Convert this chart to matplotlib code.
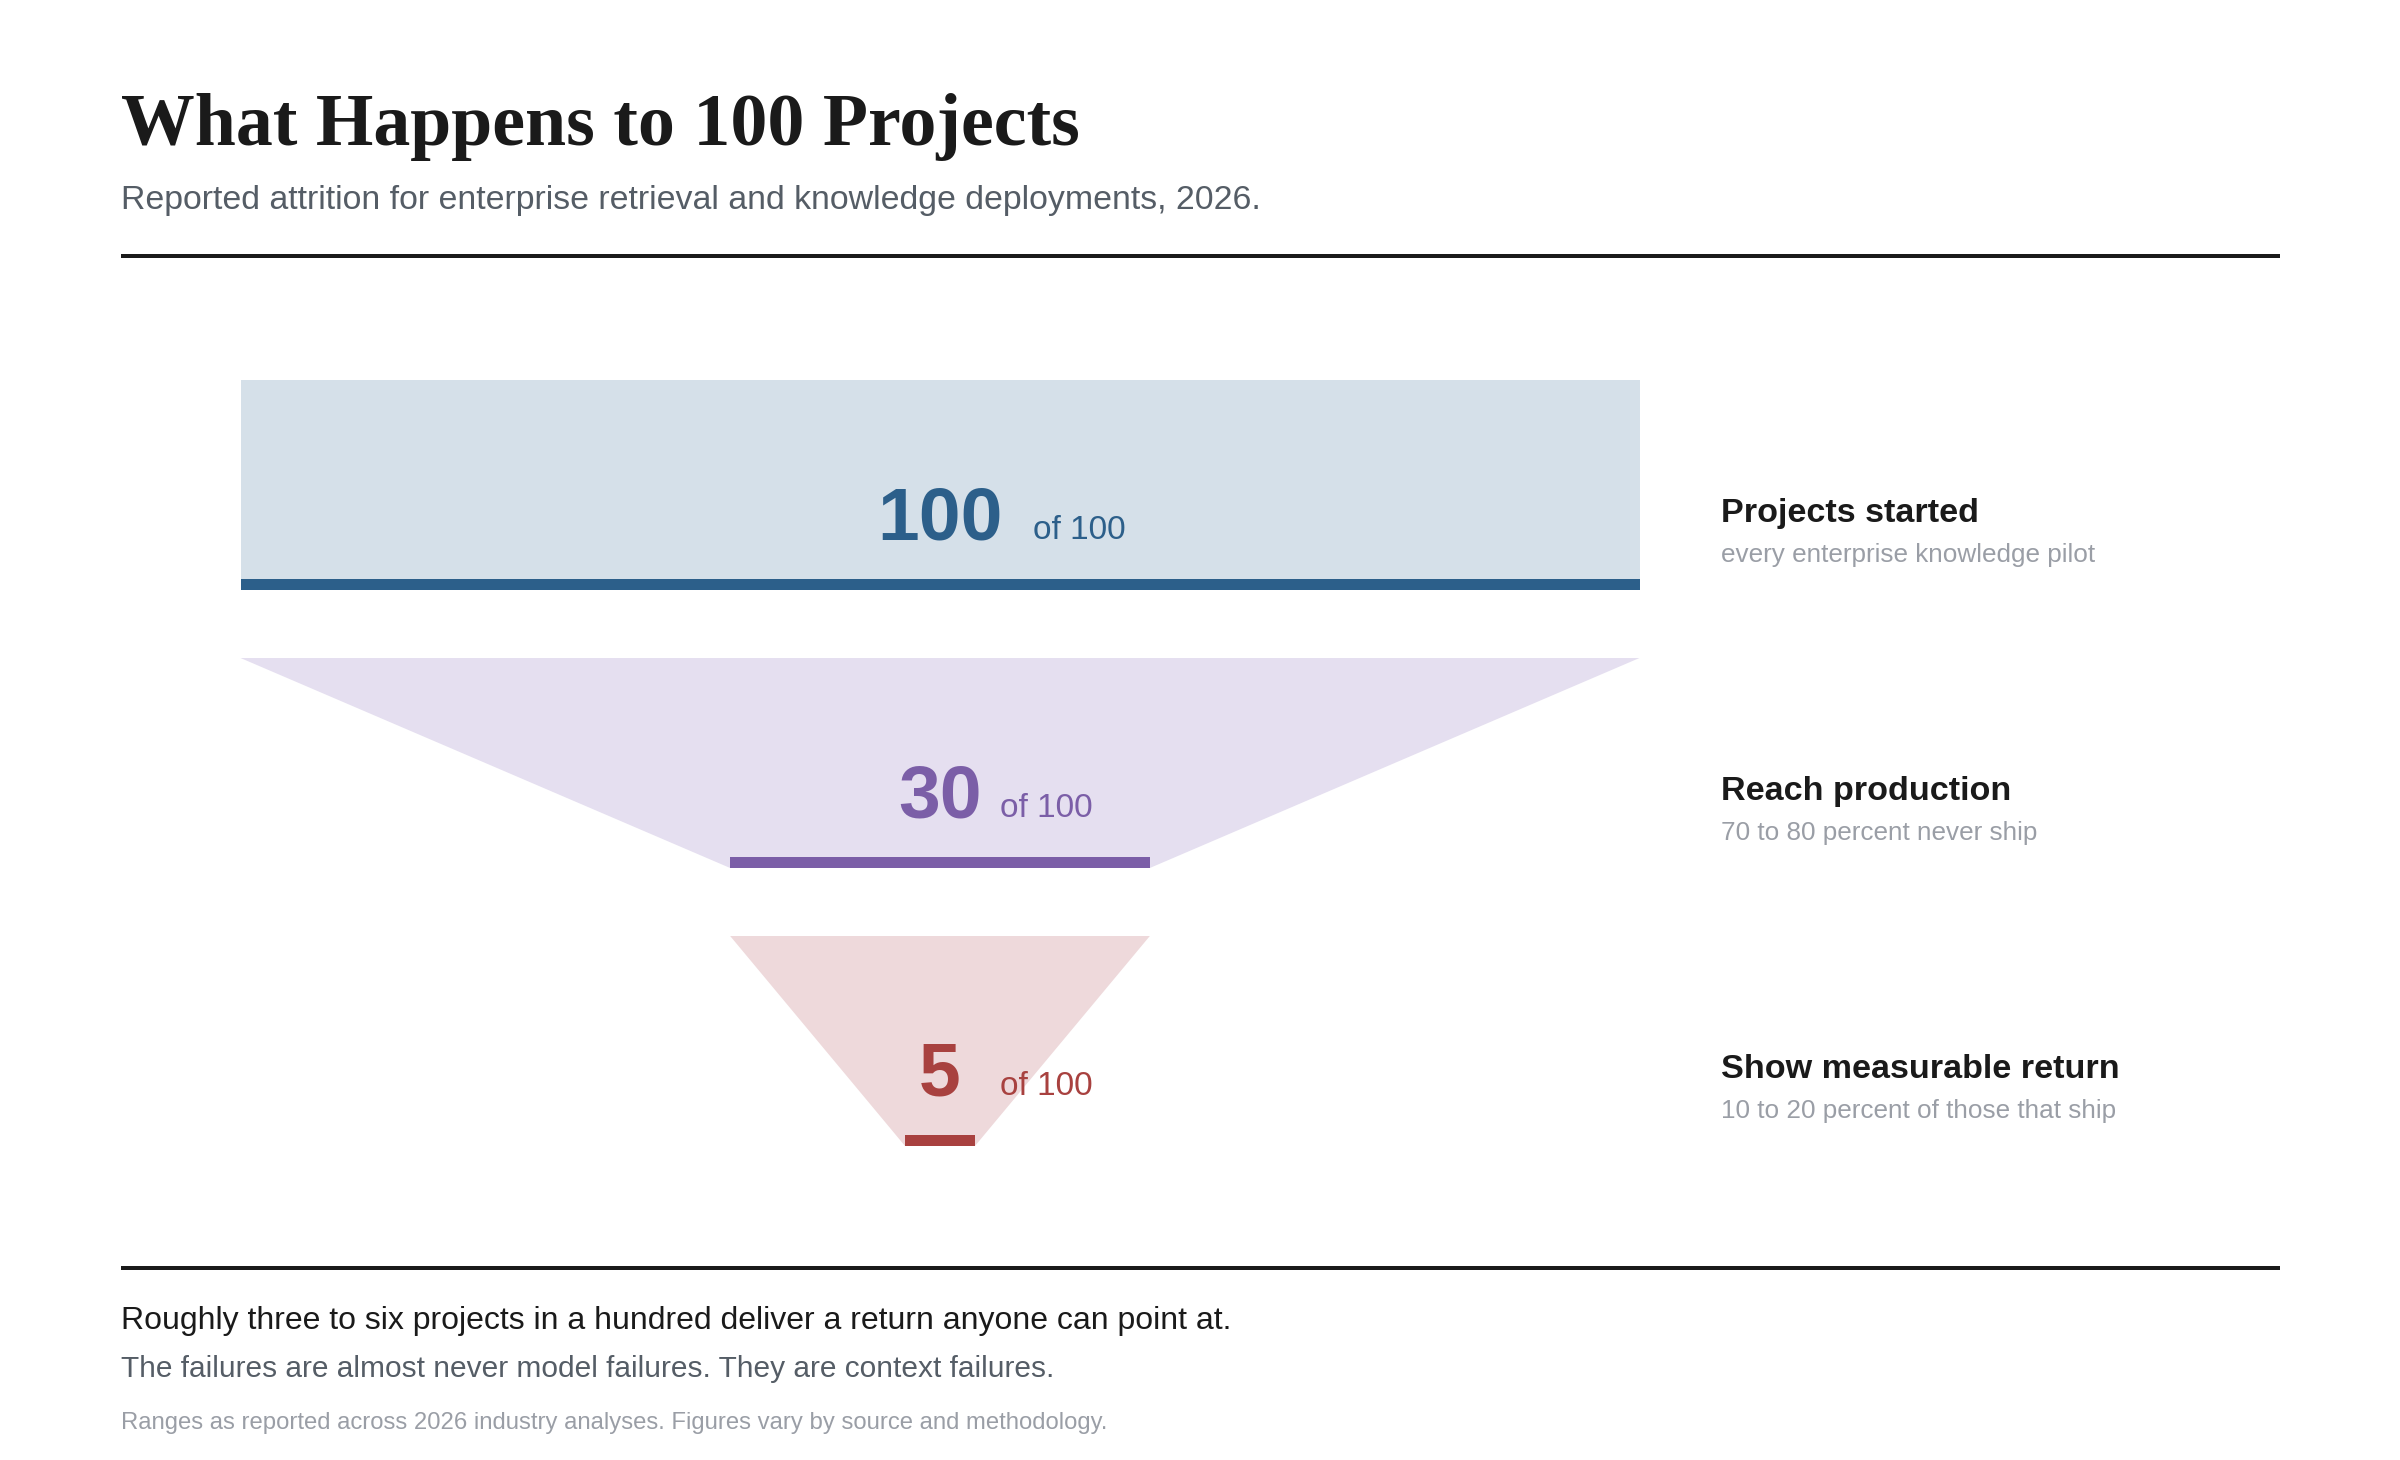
import numpy as np
import matplotlib
matplotlib.use('Agg')
import matplotlib.pyplot as plt
from matplotlib.patches import Polygon, Rectangle

# --- chart content

title = 'What Happens to 100 Projects'
subtitle = 'Reported attrition for enterprise retrieval and knowledge deployments, 2026.'

stages = ['Projects started', 'Reach production', 'Show measurable return']
notes = ['every enterprise knowledge pilot',
         '70 to 80 percent never ship',
         '10 to 20 percent of those that ship']
counts = [100, 30, 5]
total = 100

footer_main = 'Roughly three to six projects in a hundred deliver a return anyone can point at.'
footer_sub = 'The failures are almost never model failures. They are context failures.'
footer_note = 'Ranges as reported across 2026 industry analyses. Figures vary by source and methodology.'

fills = ['#d5e0e9', '#e5dff0', '#eed9db']
strong = ['#2c5f8a', '#7b5ea7', '#a8413f']

# --- layout in pixels (figure is 2400 x 1460)

W, H = 2400, 1460
left, right = 121, 2280
cx = 940            # funnel centre
full_w = 1399       # width of 100 projects
row_top0 = 380
row_h = 210
row_step = 278
bar_h = 11
label_x = 1721

fig = plt.figure(figsize=(12, 7.3), dpi=200)
ax = fig.add_axes([0, 0, 1, 1])
ax.set_xlim(0, W)
ax.set_ylim(H, 0)
ax.axis('off')

sans = ['Liberation Sans', 'DejaVu Sans']
serif = ['Liberation Serif', 'DejaVu Serif']
lw_rule = 4 * 72 / 200.

ax.text(left, 145, title, family=serif, weight='bold', fontsize=26.6, color='#1a1a1a', va='baseline')
ax.text(left, 209, subtitle, family=sans, fontsize=12.2, color='#555d66', va='baseline')
ax.plot([left, right], [256, 256], color='#1a1a1a', lw=lw_rule, solid_capstyle='butt')

for i, n in enumerate(counts):
    prev = counts[i - 1] if i > 0 else counts[0]
    top = row_top0 + i * row_step
    bot = top + row_h
    wt = full_w * prev / total
    wb = full_w * n / total
    poly = Polygon([(cx - wt / 2, top), (cx + wt / 2, top), (cx + wb / 2, bot), (cx - wb / 2, bot)],
                   closed=True, facecolor=fills[i], edgecolor='none')
    ax.add_patch(poly)
    ax.add_patch(Rectangle((cx - wb / 2, bot - bar_h), wb, bar_h, facecolor=strong[i], edgecolor='none'))

    base = top + 159
    ax.text(cx, base, str(n), family=sans, weight='bold', fontsize=27, color=strong[i],
            ha='center', va='baseline')
    off = 93 if n >= 100 else 60
    ax.text(cx + off, base, 'of %d' % total, family=sans, fontsize=12, color=strong[i],
            ha='left', va='baseline')

    ax.text(label_x, top + 142, stages[i], family=sans, weight='bold', fontsize=12.3,
            color='#1a1a1a', va='baseline')
    ax.text(label_x, top + 182, notes[i], family=sans, fontsize=9.4, color='#9a9ea6', va='baseline')

ax.plot([left, right], [1268, 1268], color='#1a1a1a', lw=lw_rule, solid_capstyle='butt')
ax.text(left, 1329, footer_main, family=sans, fontsize=11.5, color='#1a1a1a', va='baseline')
ax.text(left, 1377, footer_sub, family=sans, fontsize=10.75, color='#555d66', va='baseline')
ax.text(left, 1429, footer_note, family=sans, fontsize=8.6, color='#9a9ea6', va='baseline')

fig.savefig('out.png', dpi=200, facecolor='white')
